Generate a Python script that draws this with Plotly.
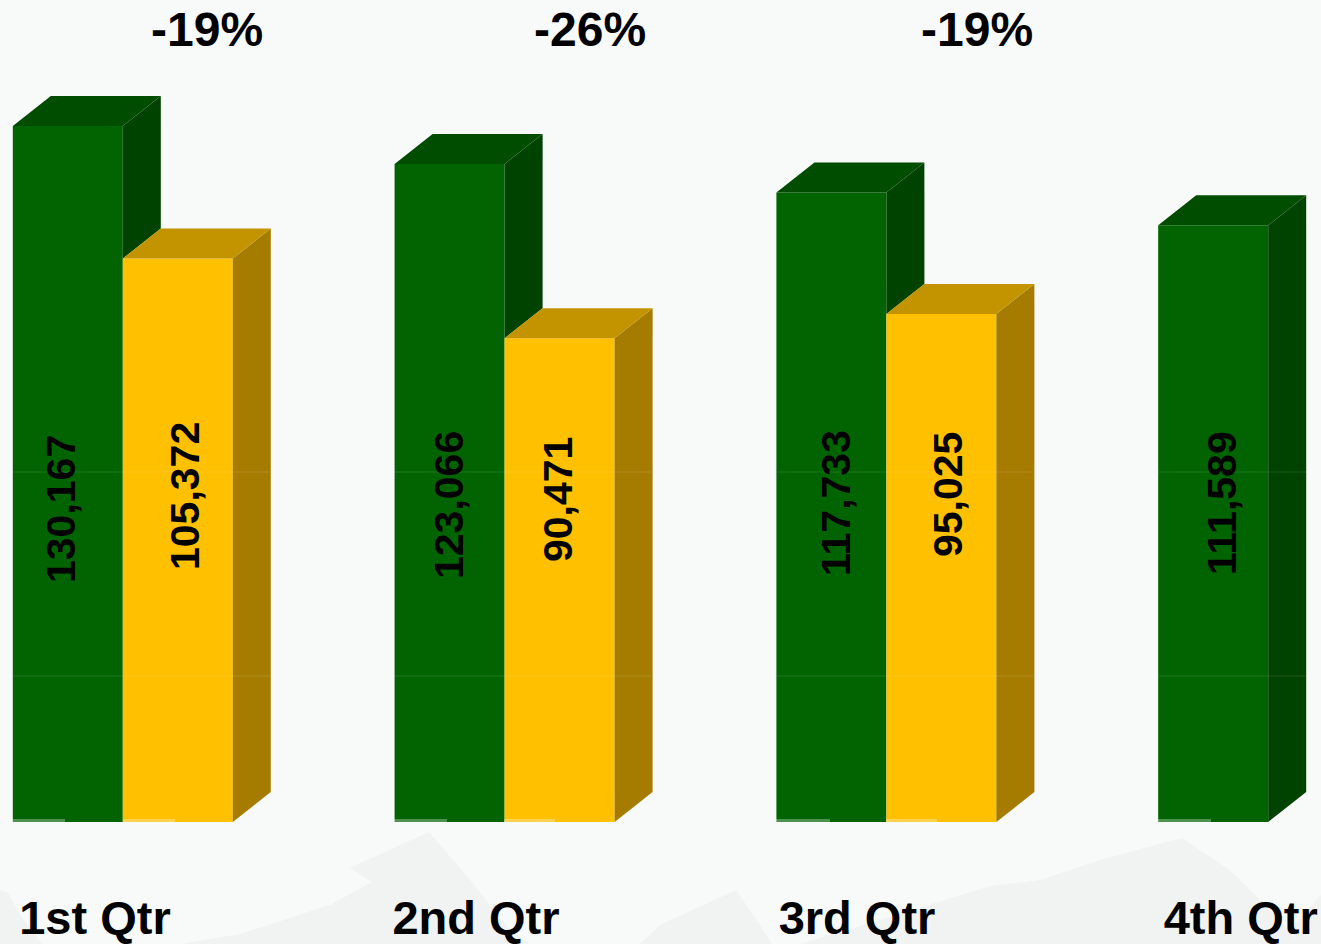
import plotly.graph_objects as go

categories = ["1st Qtr", "2nd Qtr", "3rd Qtr", "4th Qtr"]
series_green = [130167, 123066, 117733, 111589]
series_gold = [105372, 90471, 95025, None]
change_labels = ["-19%", "-26%", "-19%"]

W, H = 1321, 944
BASE_PX = 822
PITCH = 381.8
X0_PX = 122.8
UNITS_PER_PX = 130167 / 696
BAR_W = 110 / PITCH
DX = 38 / PITCH
DY = 30 * UNITS_PER_PX
FONT = "Liberation Sans"

GREEN, GREEN_SIDE, GREEN_TOP = "#016401", "#004300", "#004d00"
GOLD, GOLD_SIDE, GOLD_TOP = "#FFC000", "#A67C00", "#C49300"


def px_x(p):
    return p / W


def px_y(p):
    return (BASE_PX - p) / BASE_PX


def poly(xs, ys, color):
    return go.Scatter(x=xs + xs[:1], y=ys + ys[:1], mode="lines", fill="toself",
                      fillcolor=color, line=dict(width=0, color=color),
                      hoverinfo="skip", showlegend=False)


xpos = list(range(len(categories)))
fig = go.Figure()
fig.add_trace(go.Bar(x=xpos, y=series_green, name="Series 1", marker=dict(color=GREEN, line_width=0)))
fig.add_trace(go.Bar(x=xpos, y=series_gold, name="Series 2", marker=dict(color=GOLD, line_width=0)))

for i, (g, y) in enumerate(zip(series_green, series_gold)):
    l, m, r = i - BAR_W, i, i + BAR_W
    # green: the side stops where the neighbouring gold bar's top begins
    low = y if y is not None else 0
    fig.add_trace(poly([m, m + DX, m + DX, m], [g, g + DY, low + DY, low], GREEN_SIDE))
    fig.add_trace(poly([l, l + DX, m + DX, m], [g, g + DY, g + DY, g], GREEN_TOP))
    if y is not None:
        fig.add_trace(poly([r, r + DX, r + DX, r], [y, y + DY, DY, 0], GOLD_SIDE))
        fig.add_trace(poly([m, m + DX, r + DX, r], [y, y + DY, y + DY, y], GOLD_TOP))

annotations = []
label_px = [(61, 509), (185, 496), (449, 505), (558, 500), (836, 503), (948, 495), (1222, 503)]
labels = [v for pair in zip(series_green, series_gold) for v in pair if v is not None]
for v, (px, py) in zip(labels, label_px):
    annotations.append(dict(x=px_x(px), y=px_y(py), xref="paper", yref="paper", text=f"{v:,}",
                            textangle=-90, showarrow=False, xanchor="center", yanchor="middle",
                            font=dict(family=FONT, size=41, weight=700, color="#000000")))
for t, px in zip(change_labels, [207, 590, 977]):
    annotations.append(dict(x=px_x(px), y=px_y(30), xref="paper", yref="paper", text=t,
                            showarrow=False, xanchor="center", yanchor="middle",
                            font=dict(family=FONT, size=48, weight=700, color="#000000")))

MOUNT = "#F1F2F2"
mountains = [
    [(0, 890), (8, 893), (20, 915), (42, 944), (0, 944)],
    [(180, 944), (240, 934), (330, 905), (372, 882), (350, 868), (429, 832), (470, 880), (510, 930), (530, 944)],
    [(660, 925), (736, 890), (760, 925), (772, 944), (640, 944)],
    [(800, 944), (880, 920), (900, 914), (990, 886), (1040, 880), (1100, 860), (1182, 838), (1200, 850),
     (1230, 870), (1270, 910), (1300, 944)],
    [(1290, 930), (1321, 895), (1321, 944), (1300, 944)],
]
shapes = []
for m in mountains:
    path = "M" + " L".join(f"{px_x(a):.5f},{px_y(b):.5f}" for a, b in m) + " Z"
    shapes.append(dict(type="path", path=path, xref="paper", yref="paper", layer="below",
                       fillcolor=MOUNT, line=dict(width=0)))

for y_px in (472, 676):
    for a, b in [(12, 270), (394, 651), (777, 1033), (1159, 1307)]:
        shapes.append(dict(type="line", xref="paper", yref="paper", x0=px_x(a), x1=px_x(b),
                           y0=px_y(y_px), y1=px_y(y_px), layer="above",
                           line=dict(color="rgba(255,255,255,0.12)", width=1)))
for a, b in [(12, 65), (123, 175), (394, 447), (504, 555), (776, 830), (886, 937), (1158, 1211)]:
    shapes.append(dict(type="line", xref="paper", yref="paper", x0=px_x(a), x1=px_x(b),
                       y0=px_y(820.5), y1=px_y(820.5), layer="above",
                       line=dict(color="rgba(255,255,255,0.3)", width=3)))

fig.update_layout(
    width=W, height=H,
    margin=dict(l=0, r=0, t=0, b=H - BASE_PX, pad=0, autoexpand=False),
    paper_bgcolor="#F8F9F9", plot_bgcolor="rgba(0,0,0,0)",
    barmode="group", bargap=1 - 2 * BAR_W, bargroupgap=0,
    showlegend=False,
    annotations=annotations, shapes=shapes,
    xaxis=dict(range=[-X0_PX / PITCH, (W - X0_PX) / PITCH], tickmode="array",
               tickvals=[-0.073, 0.925, 1.923, 2.928], ticktext=categories, automargin=False,
               showgrid=False, zeroline=False, showline=False,
               ticks="outside", ticklen=55, tickcolor="rgba(0,0,0,0)",
               tickfont=dict(family=FONT, size=47, weight=700, color="#000000")),
    yaxis=dict(range=[0, BASE_PX * UNITS_PER_PX], visible=False, automargin=False),
)

fig.write_html("out.html", config=dict(displayModeBar=False),
               post_script="document.body.style.margin='0';document.documentElement.style.overflow='hidden';")
